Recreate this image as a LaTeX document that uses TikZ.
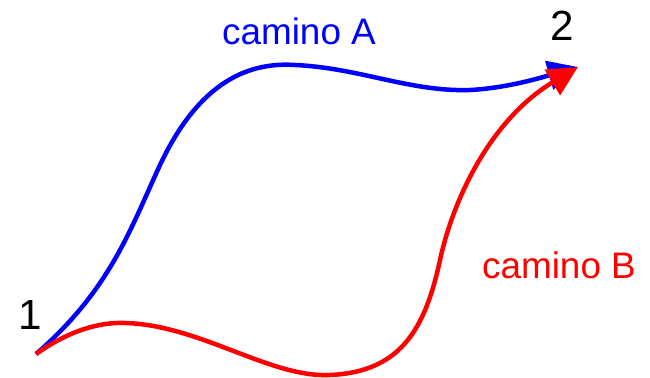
\documentclass[tikz,border=0pt]{standalone}
\usepackage{fontspec}
\setmainfont{Liberation Sans}
\usetikzlibrary{arrows.meta}
\tikzset{
  path/.style={line width=0.09cm, -{Triangle[length=0.6cm, width=0.58cm]}},
  lbl/.style={font=\fontsize{21}{25}\selectfont},
  num/.style={font=\fontsize{24}{28}\selectfont},
}
\begin{document}
\begin{tikzpicture}[x=0.02cm,y=-0.02cm]
  \useasboundingbox (0,0) rectangle (650,378);
  \coordinate (p1) at (36,354);
  \coordinate (p2) at (578,67);
  \draw[path, blue] (p1) .. controls (110,290) and (130,230) .. (160,165)
    .. controls (200,80) and (250,62) .. (295,65)
    .. controls (360,68) and (410,92) .. (470,90)
    .. controls (510,88) and (550,75) .. (p2);
  \draw[path, red] (p1) .. controls (70,330) and (100,322) .. (125,323)
    .. controls (200,325) and (270,378) .. (330,375)
    .. controls (400,372) and (425,330) .. (440,260)
    .. controls (453,200) and (490,120) .. (p2);
  \node[num] (n1) at (30,315) {1};
  \node[num] (n2) at (562,26) {2};
  \node[lbl, blue] (labA) at (299,31) {camino A};
  \node[lbl, red] (labB) at (559,265) {camino B};
\end{tikzpicture}
\end{document}
